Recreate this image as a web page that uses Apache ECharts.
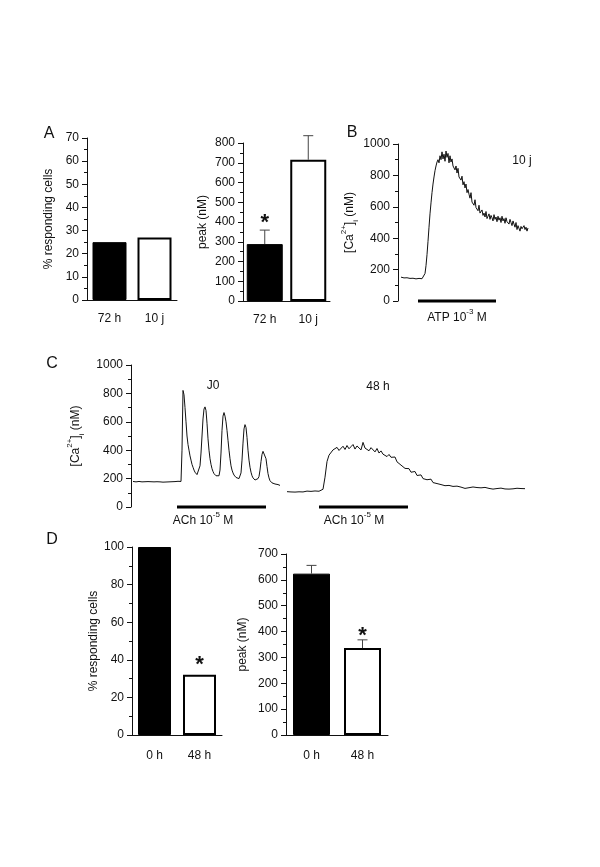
<!DOCTYPE html>
<html><head><meta charset="utf-8">
<script src="https://cdn.jsdelivr.net/npm/echarts@6/dist/echarts.min.js"></script>
<style>html,body{margin:0;padding:0;background:#fff}#c{width:600px;height:867px}</style>
</head><body><div id="c"></div>
<script>
const FONT = '"Liberation Sans", Arial, sans-serif';
const INK = '#111';

// ---------- Panel A ----------
const catsA = ['72 h', '10 j'];
const respA = [25, 27];
const peakA = [288, 715];
const peakAErr = [71, 122];
const sigPeakA = [1, 0];

// ---------- Panel B (ATP, 10 j) ----------
const traceB_x0 = 3;
const traceB = [
  152,149,151,147,150,146,148,145,147,144,146,143,145,142,144,141,143,142,144,141,143,142,140,146,
  175,225,295,380,470,555,625,690,745,790,830,860,885,900,
  880,925,900,950,905,935,890,955,915,940,880,925,885,905,860,
  870,835,860,815,845,790,800,770,795,740,760,720,745,690,710,
  680,655,690,630,640,610,645,595,600,575,610,560,570,580,545,
  560,535,570,525,540,555,520,545,530,510,550,520,535,505,540,
  515,530,500,540,510,525,495,530,505,515,490,520,500,480,510,
  490,470,500,455,480,470,445,475,460,450,480,455,470,445,465
];
const atpBar = [20, 98];

// ---------- Panel C (ACh, J0 and 48 h) ----------
const traceJ0_x0 = 2;
const traceJ0 = [
  180,178,181,177,179,176,180,178,182,177,
  179,175,178,180,176,179,181,177,178,176,
  180,177,179,182,178,176,179,177,180,178,
  175,179,181,176,178,180,177,179,176,178,
  182,177,179,175,178,181,177,176,180,
  400,821,790,700,600,500,440,400,360,330,300,280,260,245,235,228,225,
  240,290,380,500,620,690,705,680,590,480,400,340,300,270,250,235,225,220,215,215,220,
  260,380,540,640,665,640,600,540,470,400,340,290,260,240,225,215,208,205,200,200,205,
  240,330,450,550,580,560,490,400,330,280,245,220,205,195,190,190,192,200,215,
  260,320,370,392,395,380,340,285,235,205,185,175,170,168,165,162,165,160,158,155,152
];
const trace48_x0 = 156;
const trace48_step = 2;
const trace48 = [
  108,112,106,110,105,111,107,113,106,109,112,105,110,108,113,107,111,109,
  125,210,320,365,378,402,388,420,398,412,428,405,433,410,425,440,408,430,418,402,
  455,415,428,396,418,405,388,412,380,395,372,385,355,370,350,338,352,318,325,295,
  290,272,262,270,245,238,250,222,215,226,200,208,192,185,196,172,180,165,170,158,
  155,150,146,152,140,145,138,147,134,140,143,131,138,136,129,141,133,137,128,135,
  133,138,128,131,136,126,134,130,124,133,129,127,135,126,131,128,123,132,127,130,
  126,129
];
const achBarJ0 = [46, 135];
const achBar48 = [188, 277];

// ---------- Panel D ----------
const catsD = ['0 h', '48 h'];
const respD = [100, 32];
const sigRespD = [0, 1];
const peakD = [624, 336];
const peakDErr = [32, 32];
const sigPeakD = [0, 1];

// ---------- helpers ----------
const txt = (size) => ({ fontFamily: FONT, fontSize: size || 12, color: INK });
const caRich = {
  sup: { fontFamily: FONT, fontSize: 8, color: INK, verticalAlign: 'top', lineHeight: 10 },
  sub: { fontFamily: FONT, fontSize: 8, color: INK, verticalAlign: 'bottom', lineHeight: 10 }
};

function yAx(grid, max, interval, minorSplit, name, nameGap, rich) {
  return {
    type: 'value', gridIndex: grid, min: 0, max: max, interval: interval,
    name: name, nameLocation: 'middle', nameGap: nameGap, nameRotate: 90,
    nameTextStyle: Object.assign(txt(12), rich ? { rich: caRich, lineHeight: 20 } : {}),
    axisLine: { show: true, lineStyle: { color: INK, width: 1 } },
    axisTick: { show: true, length: 5, lineStyle: { color: INK } },
    minorTick: { show: true, splitNumber: minorSplit, length: 3, lineStyle: { color: INK } },
    splitLine: { show: false },
    axisLabel: Object.assign(txt(12), { margin: 8, formatter: (v) => String(v) })
  };
}
function xCat(grid, cats, margin) {
  return {
    type: 'category', gridIndex: grid, data: cats,
    axisLine: { show: true, lineStyle: { color: INK, width: 1 } },
    axisTick: { show: false },
    axisLabel: Object.assign(txt(12), { margin: margin })
  };
}
function xVal(grid, max) {
  return { type: 'value', gridIndex: grid, min: 0, max: max, show: false };
}
function bars(axis, vals, width) {
  return {
    type: 'bar', xAxisIndex: axis, yAxisIndex: axis, barWidth: width,
    data: vals.map((v, i) => ({
      value: v,
      itemStyle: i === 0
        ? { color: '#000', borderColor: '#000', borderWidth: 1 }
        : { color: '#fff', borderColor: '#000', borderWidth: 2 }
    })),
    animation: false
  };
}
function marks(axis, vals, errs, sig, starGap) {
  return {
    type: 'custom', xAxisIndex: axis, yAxisIndex: axis, clip: false, z: 5,
    data: vals.map((v, i) => [i, v, errs ? errs[i] : 0, sig ? sig[i] : 0]),
    renderItem: function (params, api) {
      const i = api.value(0), v = api.value(1), e = api.value(2), s = api.value(3);
      const base = api.coord([i, v]);
      const top = api.coord([i, v + e]);
      const ch = [];
      if (e > 0) {
        ch.push({ type: 'line', shape: { x1: base[0], y1: base[1], x2: top[0], y2: top[1] },
          style: { stroke: '#444', lineWidth: 1 } });
        ch.push({ type: 'line', shape: { x1: top[0] - 5, y1: top[1], x2: top[0] + 5, y2: top[1] },
          style: { stroke: '#444', lineWidth: 1 } });
      }
      if (s) {
        ch.push({ type: 'text', x: top[0], y: top[1] - starGap,
          style: { text: '*', align: 'center', verticalAlign: 'middle',
            font: 'bold 22px ' + FONT, fill: INK } });
      }
      return { type: 'group', children: ch };
    }
  };
}
function trace(axis, x0, step, ys) {
  return {
    type: 'line', xAxisIndex: axis, yAxisIndex: axis, showSymbol: false, symbol: 'none',
    lineStyle: { color: INK, width: 1 }, clip: false, animation: false,
    data: ys.map((y, i) => [x0 + i * step, y])
  };
}
function stimBar(axis, range) {
  return {
    type: 'line', xAxisIndex: axis, yAxisIndex: axis, symbol: 'none', clip: false,
    lineStyle: { color: '#000', width: 3, cap: 'butt' }, animation: false,
    data: [[range[0], 0], [range[1], 0]]
  };
}
function label(x, y, text, size, rich) {
  return { type: 'text', x: x, y: y,
    style: Object.assign({ text: text, align: 'center', verticalAlign: 'middle',
      font: (size || 12) + 'px ' + FONT, fill: INK }, rich ? { rich: rich } : {}) };
}
const expRich = {
  n: { fontFamily: FONT, fontSize: 12, color: INK, lineHeight: 20 },
  sup: { fontFamily: FONT, fontSize: 8, color: INK, verticalAlign: 'top', lineHeight: 10 }
};

const chart = echarts.init(document.getElementById('c'), null, { renderer: 'canvas' });
chart.setOption({
  animation: false,
  backgroundColor: '#fff',
  grid: [
    { left: 87, top: 138, width: 90, height: 162 },
    { left: 243, top: 143, width: 87, height: 158 },
    { left: 398, top: 144, width: 132, height: 157 },
    { left: 131, top: 365, width: 394, height: 142 },
    { left: 132, top: 547, width: 90, height: 188 },
    { left: 286, top: 554, width: 102, height: 181 }
  ],
  xAxis: [
    xCat(0, catsA, 13),
    xCat(1, catsA, 13),
    xVal(2, 132),
    xVal(3, 394),
    xCat(4, catsD, 15),
    xCat(5, catsD, 15)
  ],
  yAxis: [
    yAx(0, 70, 10, 2, '% responding cells', 32),
    yAx(1, 800, 100, 2, 'peak (nM)', 34),
    yAx(2, 1000, 200, 2, '[Ca{sup|2+}]{sub|i} (nM)', 33, true),
    yAx(3, 1000, 200, 2, '[Ca{sup|2+}]{sub|i} (nM)', 44, true),
    yAx(4, 100, 20, 2, '% responding cells', 30),
    yAx(5, 700, 100, 2, 'peak (nM)', 37)
  ],
  series: [
    bars(0, respA, 34),
    bars(1, peakA, 36),
    marks(1, peakA, peakAErr, sigPeakA, 7),
    trace(2, traceB_x0, 1, traceB),
    stimBar(2, atpBar),
    trace(3, traceJ0_x0, 1, traceJ0),
    trace(3, trace48_x0, trace48_step, trace48),
    stimBar(3, achBarJ0),
    stimBar(3, achBar48),
    bars(4, respD, 33),
    marks(4, respD, null, sigRespD, 10),
    bars(5, peakD, 37),
    marks(5, peakD, peakDErr, sigPeakD, 4)
  ],
  graphic: [
    label(49, 134, 'A', 16),
    label(352, 133, 'B', 16),
    label(52, 364, 'C', 16),
    label(52, 540, 'D', 16),
    label(522, 161, '10 j', 12),
    label(213, 386, 'J0', 12),
    label(378, 387, '48 h', 12),
    label(457, 318, '{n|ATP 10}{sup|-3}{n| M}', 12, expRich),
    label(203, 521, '{n|ACh 10}{sup|-5}{n| M}', 12, expRich),
    label(354, 521, '{n|ACh 10}{sup|-5}{n| M}', 12, expRich)
  ]
});
</script>
</body></html>
